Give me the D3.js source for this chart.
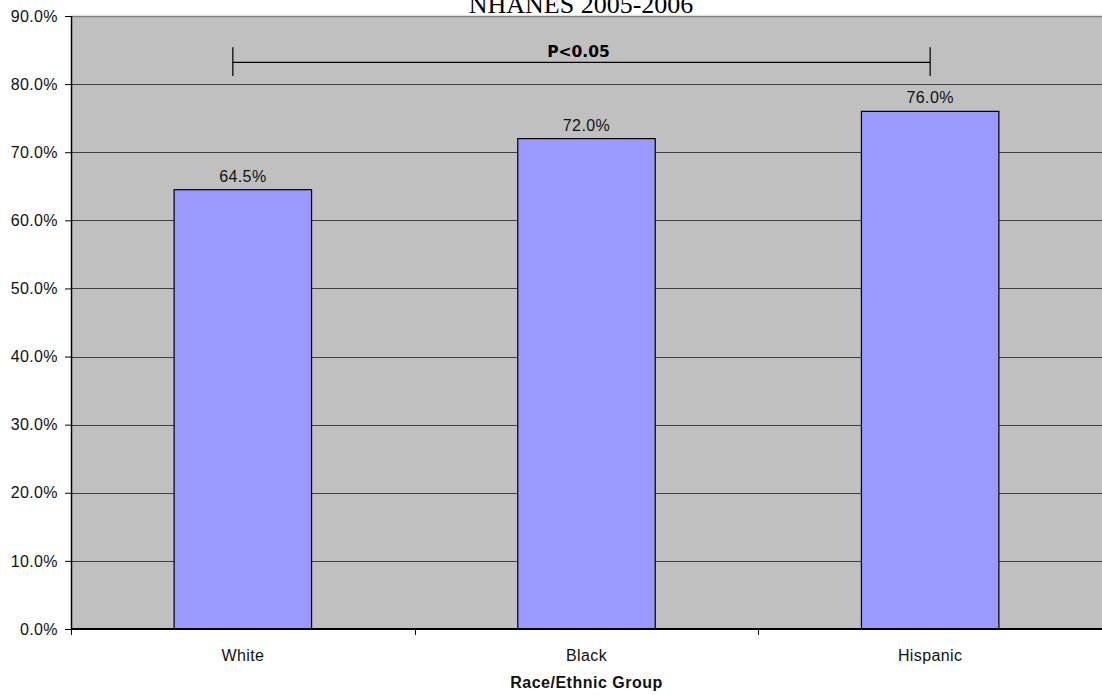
<!DOCTYPE html>
<html>
<head>
<meta charset="utf-8">
<script src="https://cdn.jsdelivr.net/npm/d3@7/dist/d3.min.js"></script>
<style>
  html, body { margin: 0; padding: 0; background: #fff; }
  svg { display: block; }
</style>
</head>
<body>
<svg id="chart" width="1102" height="695"></svg>
<script>
// Prevalence by race/ethnic group
const categories = ["White", "Black", "Hispanic"];
const values = [64.5, 72.0, 76.0];
const yTicks = [0, 10, 20, 30, 40, 50, 60, 70, 80, 90];
const titleText = "NHANES 2005-2006";
const xAxisTitle = "Race/Ethnic Group";
const sigLabel = "P<0.05";
const sigPair = ["White", "Hispanic"];
const sigLevel = [81.2, 83.2, 85.4]; // bracket tick bottom, bar line, tick top

const W = 1102, H = 695;
const margin = { top: 16, right: 0, bottom: 66, left: 71 };
const svg = d3.select("#chart");
const sans = "Liberation Sans, Arial, sans-serif";

const x = d3.scaleBand()
  .domain(categories)
  .range([margin.left, W - margin.right])
  .paddingInner(0.6)
  .paddingOuter(0.3);

const y = d3.scaleLinear()
  .domain([0, 90])
  .range([H - margin.bottom, margin.top]);

// plot background
svg.append("rect")
  .attr("x", margin.left).attr("y", margin.top)
  .attr("width", W - margin.left - margin.right)
  .attr("height", y(0) - margin.top)
  .attr("fill", "#c0c0c0");

// horizontal gridlines
svg.append("g")
  .selectAll("line")
  .data(yTicks.filter(d => d > 0 && d < 90))
  .join("line")
  .attr("x1", margin.left).attr("x2", W - margin.right)
  .attr("y1", d => Math.round(y(d)) + 0.5).attr("y2", d => Math.round(y(d)) + 0.5)
  .attr("stroke", "#404040").attr("stroke-width", 1.2);

// top border of plot area
svg.append("line")
  .attr("x1", margin.left).attr("x2", W)
  .attr("y1", Math.round(y(90)) + 0.5).attr("y2", Math.round(y(90)) + 0.5)
  .attr("stroke", "#808080").attr("stroke-width", 1.5);

// bars
const rows = categories.map((c, i) => ({ c, v: values[i] }));
svg.append("g")
  .selectAll("rect")
  .data(rows)
  .join("rect")
  .attr("x", d => x(d.c))
  .attr("y", d => y(d.v))
  .attr("width", x.bandwidth())
  .attr("height", d => y(0) - y(d.v))
  .attr("fill", "#9999ff")
  .attr("stroke", "#000").attr("stroke-width", 1.2);

// value labels
svg.append("g")
  .selectAll("text")
  .data(rows)
  .join("text")
  .attr("x", d => x(d.c) + x.bandwidth() / 2)
  .attr("y", d => y(d.v) - 8)
  .attr("text-anchor", "middle")
  .attr("font-family", sans)
  .attr("font-size", 16)
  .attr("letter-spacing", 0.4)
  .attr("fill", "#111")
  .text(d => d.v.toFixed(1) + "%");

// y axis
const yAxis = d3.axisLeft(y)
  .tickValues(yTicks)
  .tickSize(6)
  .tickPadding(7)
  .tickFormat(d => d.toFixed(1) + "%");
const yg = svg.append("g")
  .attr("transform", `translate(${margin.left},0)`)
  .call(yAxis);
yg.select(".domain").attr("stroke", "#000").attr("stroke-width", 1.5)
  .attr("d", `M0.5,${y(90)}V${y(0)}`);
yg.selectAll(".tick line").attr("stroke", "#000").attr("x2", -6);
yg.selectAll(".tick text")
  .attr("font-family", sans)
  .attr("font-size", 16)
  .attr("letter-spacing", 0.4)
  .attr("fill", "#111");

// x axis: ticks at category boundaries
const boundaries = d3.range(0, categories.length).map(i => margin.left + i * (W - margin.left - margin.right) / categories.length);
const xg = svg.append("g");
xg.append("line")
  .attr("x1", margin.left).attr("x2", W)
  .attr("y1", y(0)).attr("y2", y(0))
  .attr("stroke", "#000").attr("stroke-width", 2);
xg.selectAll("line.tk")
  .data(boundaries)
  .join("line").attr("class", "tk")
  .attr("x1", d => Math.round(d) + 0.5).attr("x2", d => Math.round(d) + 0.5)
  .attr("y1", y(0)).attr("y2", y(0) + 6)
  .attr("stroke", "#000");
xg.selectAll("text")
  .data(categories)
  .join("text")
  .attr("x", d => x(d) + x.bandwidth() / 2)
  .attr("y", y(0) + 32)
  .attr("text-anchor", "middle")
  .attr("font-family", sans)
  .attr("font-size", 16)
  .attr("letter-spacing", 0.4)
  .attr("fill", "#111")
  .text(d => d);

// x axis title
svg.append("text")
  .attr("x", x(categories[1]) + x.bandwidth() / 2)
  .attr("y", y(0) + 59)
  .attr("text-anchor", "middle")
  .attr("font-family", sans)
  .attr("font-size", 16)
  .attr("letter-spacing", 0.5)
  .attr("font-weight", "bold")
  .attr("fill", "#111")
  .text(xAxisTitle);

// significance bracket
const bx1 = x(sigPair[0]) + x.bandwidth() / 2 - 10;
const bx2 = x(sigPair[1]) + x.bandwidth() / 2;
const br = svg.append("g").attr("stroke", "#000").attr("stroke-width", 1.2);
br.append("line").attr("x1", bx1).attr("x2", bx2).attr("y1", y(sigLevel[1])).attr("y2", y(sigLevel[1]));
br.append("line").attr("x1", bx1).attr("x2", bx1).attr("y1", y(sigLevel[2])).attr("y2", y(sigLevel[0]));
br.append("line").attr("x1", bx2).attr("x2", bx2).attr("y1", y(sigLevel[2])).attr("y2", y(sigLevel[0]));
svg.append("text")
  .attr("x", (bx1 + bx2) / 2 - 3)
  .attr("y", y(sigLevel[1]) - 5)
  .attr("text-anchor", "middle")
  .attr("font-family", "DejaVu Sans, Verdana, sans-serif")
  .attr("font-size", 15.5)
  .attr("font-weight", "bold")
  .attr("fill", "#000")
  .text(sigLabel);

// title (runs off the top edge of the page)
svg.append("text")
  .attr("x", W / 2 + 30)
  .attr("y", 13)
  .attr("text-anchor", "middle")
  .attr("font-family", "Liberation Serif, Times New Roman, serif")
  .attr("font-size", 26)
  .attr("fill", "#000")
  .text(titleText);
</script>
</body>
</html>
